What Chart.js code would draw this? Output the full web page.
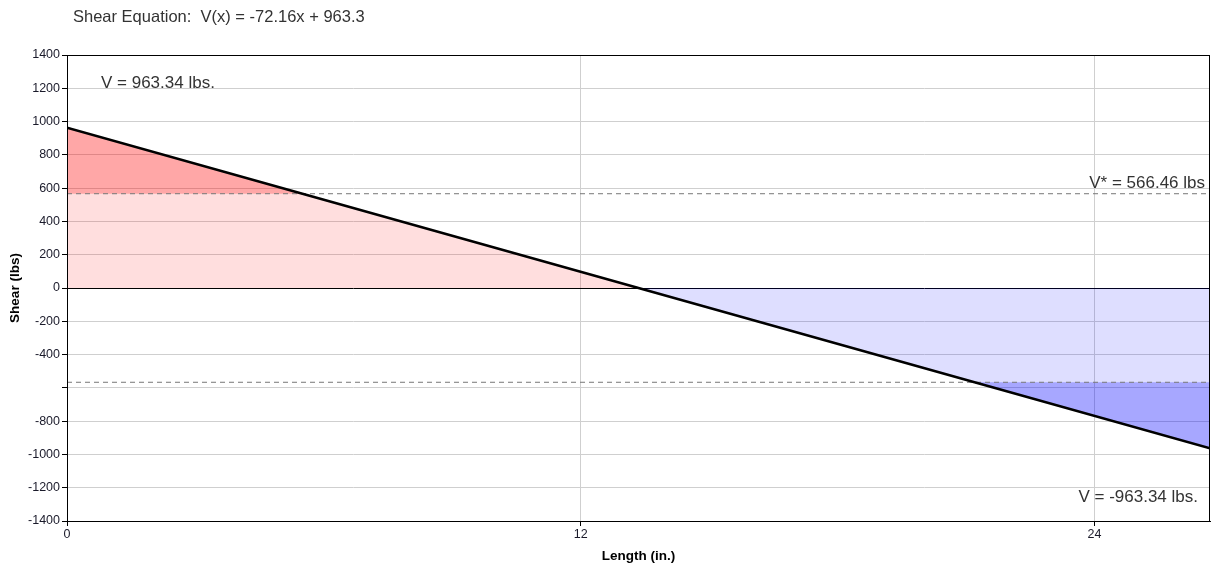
<!DOCTYPE html>
<html>
<head>
<meta charset="utf-8">
<script src="https://cdn.jsdelivr.net/npm/chart.js@4.4.1/dist/chart.umd.min.js"></script>
<style>
  html, body { margin: 0; padding: 0; background: #fff; }
  #wrap { position: relative; width: 1215px; height: 564px; }
</style>
</head>
<body>
<div id="wrap"><canvas id="shearChart"></canvas></div>
<script>
// ---- Data ----
const lengthPts = [0, 5.5, 13.35, 21.2, 26.7];           // in.
const shearPts  = [963.34, 566.46, 0, -566.46, -963.34]; // lbs
const allowable = 566.46;                                // V*
const xTicks = [0, 12, 24];
const yTicks = [-1400, -1200, -1000, -800, -600, -400, -200, 0, 200, 400, 600, 800, 1000, 1200, 1400];
const hiddenYLabels = [-600];

const FONT = "'Liberation Sans', Arial, sans-serif";

const pts = (from, to) => lengthPts.slice(from, to + 1).map((x, i) => ({ x, y: shearPts[from + i] }));
const xMin = lengthPts[0], xMax = lengthPts[lengthPts.length - 1];

// ---- Text annotations drawn on the canvas ----
const labelsPlugin = {
  id: 'labels',
  afterDraw(chart) {
    const { ctx, chartArea: a } = chart;
    ctx.save();
    // frame around the plot
    ctx.strokeStyle = '#000';
    ctx.lineWidth = 1;
    ctx.strokeRect(a.left + 0.5, a.top + 0.5, a.right - a.left - 1, a.bottom - a.top);

    ctx.fillStyle = '#333';
    ctx.font = '16.5px ' + FONT;
    ctx.textBaseline = 'middle';
    ctx.textAlign = 'left';
    ctx.fillText('Shear Equation:  V(x) = -72.16x + 963.3', 73, 17);

    ctx.font = '17px ' + FONT;
    ctx.fillText('V = ' + shearPts[0].toFixed(2) + ' lbs.', 101, 83);
    ctx.textAlign = 'right';
    ctx.fillText('V* = ' + allowable.toFixed(2) + ' lbs', 1205, 183);
    ctx.fillText('V = ' + shearPts[shearPts.length - 1].toFixed(2) + ' lbs.', 1198, 497);
    ctx.restore();
  }
};

new Chart(document.getElementById('shearChart'), {
  type: 'line',
  data: {
    datasets: [
      // light red: line down to zero
      { data: pts(0, 2), fill: 'origin', backgroundColor: 'rgba(255,0,0,0.13)', borderWidth: 0, pointRadius: 0, order: 5 },
      // dark red: above V*
      { data: pts(0, 1), fill: { value: allowable }, backgroundColor: 'rgba(255,0,0,0.25)', borderWidth: 0, pointRadius: 0, order: 4 },
      // light blue: zero down to line
      { data: pts(2, 4), fill: 'origin', backgroundColor: 'rgba(0,0,255,0.13)', borderWidth: 0, pointRadius: 0, order: 5 },
      // dark blue: below -V*
      { data: pts(3, 4), fill: { value: -allowable }, backgroundColor: 'rgba(0,0,255,0.25)', borderWidth: 0, pointRadius: 0, order: 4 },
      // V* limits
      { data: [{ x: xMin, y: allowable }, { x: xMax, y: allowable }], borderColor: '#777', borderWidth: 1, borderDash: [5, 4], pointRadius: 0, fill: false, order: 2 },
      { data: [{ x: xMin, y: -allowable }, { x: xMax, y: -allowable }], borderColor: '#777', borderWidth: 1, borderDash: [5, 4], pointRadius: 0, fill: false, order: 2 },
      // shear line
      { data: pts(0, 4), borderColor: '#000', borderWidth: 2.5, pointRadius: 0, fill: false, order: 1 }
    ]
  },
  options: {
    responsive: true,
    maintainAspectRatio: false,
    animation: false,
    layout: { padding: { top: 55, right: 5, left: 0, bottom: 0 } },
    plugins: { legend: { display: false }, tooltip: { enabled: false } },
    scales: {
      x: {
        type: 'linear',
        min: xMin, max: xMax,
        afterBuildTicks: (s) => { s.ticks = xTicks.map(v => ({ value: v })); },
        afterFit: (s) => { s.height = 43; },
        grid: { color: '#cfcfcf', tickColor: '#000', tickLength: 5 },
        border: { color: '#000', width: 1 },
        ticks: { color: '#1a1a2a', font: { family: FONT, size: 12.5 }, padding: 1, maxRotation: 0 },
        title: { display: true, text: 'Length (in.)', color: '#000', font: { family: FONT, size: 13.5, weight: 'bold' }, padding: { top: 2, bottom: 0 } }
      },
      y: {
        min: -1400, max: 1400,
        afterBuildTicks: (s) => { s.ticks = yTicks.map(v => ({ value: v })); },
        afterFit: (s) => { s.width = 67; },
        grid: {
          color: (c) => (c.tick && c.tick.value === 0 ? '#000' : '#cfcfcf'),
          tickColor: '#000', tickLength: 5
        },
        border: { color: '#000', width: 1 },
        ticks: {
          color: '#1a1a2a', font: { family: FONT, size: 12.5 }, padding: 2,
          callback: (v) => (hiddenYLabels.includes(v) ? '' : v)
        },
        title: { display: true, text: 'Shear (lbs)', color: '#000', font: { family: FONT, size: 13.5, weight: 'bold' }, padding: { top: 7, bottom: 4 } }
      }
    }
  },
  plugins: [labelsPlugin]
});
</script>
</body>
</html>
